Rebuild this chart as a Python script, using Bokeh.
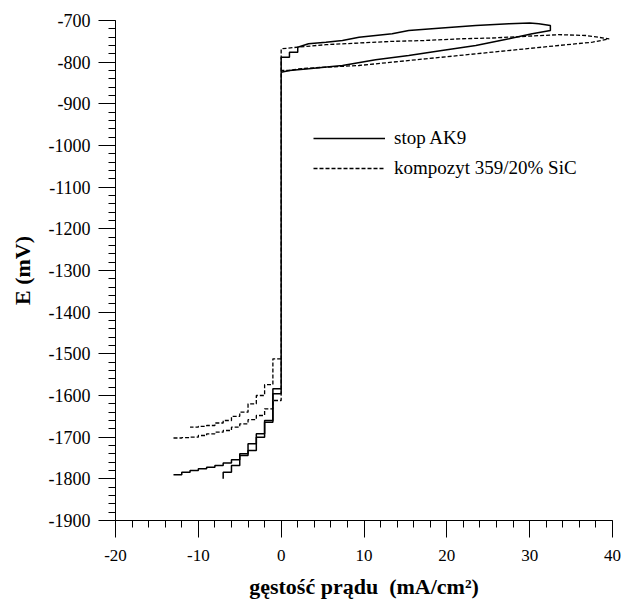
from bokeh.plotting import figure
from bokeh.models import SingleIntervalTicker, Legend, LegendItem, Range1d
from bokeh.embed import file_html
from bokeh.resources import INLINE

# ---------------- data ----------------
series_names = ["stop AK9", "kompozyt 359/20% SiC"]

# stop AK9 : anodic loop + vertical passage at i = 0
ak9_loop_i = [0, 0, 1, 1, 2, 2, 3.3, 5.4, 7.4, 9.4, 11.4, 13.4, 15.4, 19.4, 23.5, 27.5, 30, 31.1,
              32.5, 32.5, 30.3, 27.5, 23.5, 19.4, 15.4, 11.4, 7.4, 3.3, 1, 0, 0]
ak9_loop_E = [-1584, -788, -788, -776, -776, -764, -756, -752, -748, -740, -736, -732, -724, -718,
              -712, -708, -706, -708, -712, -724, -732, -744, -760, -772, -784, -794, -808, -816,
              -820, -824, -1596]
# stop AK9 : cathodic staircases (current resolution 1 mA/cm2)
ak9_a_i = [-13, -12, -11, -10, -9, -8, -7, -6, -5, -4, -3, -2, -1, 0]
ak9_a_E = [-1790, -1784, -1780, -1776, -1772, -1768, -1762, -1754, -1744, -1732, -1700, -1664,
           -1584, -1584]
ak9_b_i = [0, -1, -2, -3, -4, -5, -6, -7]
ak9_b_E = [-1596, -1660, -1692, -1716, -1740, -1768, -1784, -1800]

# kompozyt 359/20% SiC
sic_loop_i = [0, 0, 2, 5.4, 9.4, 13.4, 17.4, 21.5, 25.5, 29.5, 33.5, 36.8, 39.6,
              37.6, 33.5, 29.5, 25.5, 21.5, 17.4, 13.4, 9.4, 5.4, 2.1, 1, 0, 0]
sic_loop_E = [-1600, -768, -764, -758, -754, -750, -748, -744, -742, -738, -734, -736, -744,
              -752, -760, -768, -776, -784, -792, -800, -808, -812, -816, -820, -820, -1512]
sic_d_i = [-13, -12, -11, -10, -9, -8, -7, -6, -5, -4, -3, -2, -1, 0]
sic_d_E = [-1702, -1701, -1700, -1696, -1692, -1688, -1684, -1676, -1668, -1658, -1648, -1632,
           -1612, -1600]
sic_c_i = [0, -1, -2, -3, -4, -5, -6, -7, -8, -9, -10, -11]
sic_c_E = [-1512, -1574, -1600, -1620, -1640, -1650, -1660, -1666, -1672, -1674, -1676, -1676]

x_ticks = [-20, -10, 0, 10, 20, 30, 40]
x_tick_labels = ["-20", "-10", "0", "10", "20", "30", "40"]
y_ticks = [-1900, -1800, -1700, -1600, -1500, -1400, -1300, -1200, -1100, -1000, -900, -800, -700]
y_tick_labels = ["-1900", "-1800", "-1700", "-1600", "-1500", "-1400", "-1300", "-1200",
                 "-1100", "-1000", "-900", "-800", "-700"]
x_title = "gęstość prądu \u00a0(mA/cm²)"
y_title = "E (mV)"

# ---------------- figure ----------------
FONT = "Liberation Serif"
p = figure(width=627, height=601, output_backend="svg", toolbar_location=None,
           x_range=Range1d(-20, 40), y_range=Range1d(-1900, -700),
           min_border_left=115, min_border_right=15, min_border_top=20, min_border_bottom=81)
p.outline_line_color = None
p.grid.visible = False
p.background_fill_color = "white"
p.border_fill_color = "white"

p.xaxis.ticker = SingleIntervalTicker(interval=10, num_minor_ticks=5)
p.yaxis.ticker = SingleIntervalTicker(interval=100, num_minor_ticks=5)
p.xaxis.major_label_overrides = dict(zip(x_ticks, x_tick_labels))
p.yaxis.major_label_overrides = dict(zip(y_ticks, y_tick_labels))

for ax in (p.xaxis[0], p.yaxis[0]):
    ax.axis_line_color = "black"
    ax.axis_line_width = 1
    ax.major_tick_line_color = "black"
    ax.minor_tick_line_color = "black"
    ax.major_tick_out = 17
    ax.major_tick_in = 0
    ax.minor_tick_out = 7
    ax.minor_tick_in = 0
    ax.major_label_text_font = FONT
    ax.major_label_text_color = "black"
    ax.axis_label_text_font = FONT
    ax.axis_label_text_font_style = "bold"
    ax.axis_label_text_color = "black"
    ax.axis_label_text_font_size = "22px"

p.xaxis.major_label_text_font_size = "17px"
p.yaxis.major_label_text_font_size = "18px"
p.xaxis.major_label_standoff = 12
p.yaxis.major_label_standoff = 8
p.xaxis.axis_label_standoff = 10
p.yaxis.axis_label_standoff = 11
p.xaxis.axis_label = x_title
p.yaxis.axis_label = y_title

SOLID_W = 1.5
DASH_W = 1.3
DASH = "4 2"

r_ak9 = p.line(ak9_loop_i, ak9_loop_E, line_color="black", line_width=SOLID_W)
p.step(ak9_a_i, ak9_a_E, mode="after", line_color="black", line_width=SOLID_W)
p.step(ak9_b_i, ak9_b_E, mode="after", line_color="black", line_width=SOLID_W)

r_sic = p.line(sic_loop_i, sic_loop_E, line_color="black", line_width=DASH_W, line_dash=DASH)
p.step(sic_d_i, sic_d_E, mode="after", line_color="black", line_width=DASH_W, line_dash=DASH)
p.step(sic_c_i, sic_c_E, mode="after", line_color="black", line_width=DASH_W, line_dash=DASH)

legend = Legend(items=[LegendItem(label=series_names[0], renderers=[r_ak9]),
                       LegendItem(label=series_names[1], renderers=[r_sic])],
                location=(198, 341))
legend.label_text_font = FONT
legend.label_text_font_size = "19px"
legend.label_text_color = "black"
legend.glyph_width = 72
legend.glyph_height = 20
legend.label_height = 20
legend.spacing = 8
legend.padding = 0
legend.margin = 0
legend.label_standoff = 9
legend.border_line_color = None
legend.background_fill_alpha = 0
p.add_layout(legend)

open("out.html", "w").write(file_html(p, INLINE))
